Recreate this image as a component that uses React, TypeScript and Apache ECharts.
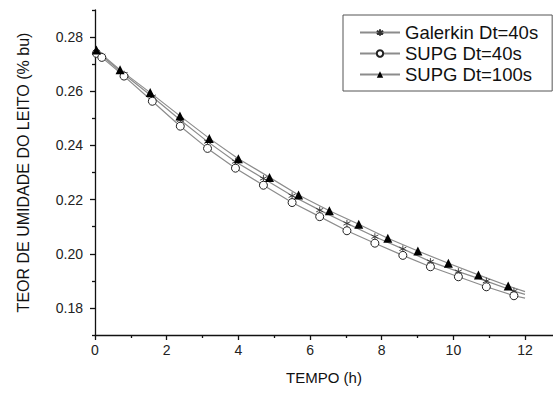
import React, { useEffect, useRef } from 'react';
import * as echarts from 'echarts';

const seriesNames = ['Galerkin Dt=40s', 'SUPG Dt=40s', 'SUPG Dt=100s'];

// time (h) of the Dt=40s samples (markers), last point = end of line
const timeDt40 = [0.04, 0.19, 0.81, 1.6, 2.38, 3.14, 3.92, 4.7, 5.5, 6.27, 7.03, 7.81, 8.59, 9.36, 10.14, 10.92, 11.69, 12.0];
const galerkin40 = [0.2745, 0.2731, 0.2663, 0.258, 0.2494, 0.2414, 0.234, 0.2278, 0.2214, 0.2161, 0.2112, 0.2063, 0.2018, 0.1971, 0.1934, 0.1899, 0.1862, 0.185];
const supg40 = [0.274, 0.2725, 0.2656, 0.2563, 0.2471, 0.2389, 0.2316, 0.2253, 0.2189, 0.2137, 0.2085, 0.2039, 0.1994, 0.1952, 0.1915, 0.1878, 0.1845, 0.1836];

// time (h) of the Dt=100s samples
const timeDt100 = [0.04, 0.7, 1.54, 2.37, 3.19, 4.0, 4.87, 5.68, 6.54, 7.36, 8.17, 9.01, 9.86, 10.7, 11.53, 12.0];
const supg100 = [0.2752, 0.2679, 0.2595, 0.2509, 0.2426, 0.2351, 0.2282, 0.2217, 0.2159, 0.2109, 0.2057, 0.201, 0.1965, 0.1922, 0.1881, 0.186];

const yMajorTicks = [0.18, 0.2, 0.22, 0.24, 0.26, 0.28];
const yMinorTicks = [0.17, 0.19, 0.21, 0.23, 0.25, 0.27, 0.29];
const xMajorTicks = [0, 2, 4, 6, 8, 10, 12];
const xMinorTicks = [1, 3, 5, 7, 9, 11];

const ASTERISK = 'path://M5 0L5 10M0.67 2.5L9.33 7.5M0.67 7.5L9.33 2.5';
const FONT = '"Liberation Sans", Arial, Helvetica, sans-serif';

function toData(xs: number[], ys: number[]) {
  return xs.map((x, i) =>
    i === xs.length - 1 ? { value: [x, ys[i]], symbol: 'none' } : [x, ys[i]]
  );
}

export default function App() {
  const ref = useRef<HTMLDivElement>(null);
  useEffect(() => {
    if (!ref.current) return;
    const chart = echarts.init(ref.current, null, { renderer: 'svg' });
    const lineStyle = { color: '#8c8c8c', width: 1.2 };
    const axisColor = '#111';
    chart.setOption({
      animation: false,
      backgroundColor: '#fff',
      textStyle: { fontFamily: FONT },
      grid: { left: 95, right: 0, top: 10, bottom: 59 },
      legend: {
        orient: 'vertical',
        left: 343,
        top: 15,
        padding: [8, 14, 7, 16],
        itemWidth: 40,
        itemHeight: 8,
        itemGap: 2,
        borderColor: '#555',
        borderWidth: 1,
        textStyle: { fontSize: 18.5, color: '#111', fontFamily: FONT },
        data: seriesNames,
      },
      xAxis: [
        {
          type: 'value',
          min: 0,
          max: 12.78,
          position: 'bottom',
          name: 'TEMPO (h)',
          nameLocation: 'middle',
          nameGap: 35,
          nameTextStyle: { fontSize: 15, color: '#111', fontFamily: FONT },
          axisLine: { lineStyle: { color: axisColor, width: 1.3 } },
          axisTick: { customValues: xMajorTicks, length: 5, lineStyle: { color: axisColor, width: 1.3 } },
          axisLabel: { customValues: xMajorTicks, margin: 8, fontSize: 14, color: '#222', fontFamily: FONT },
          splitLine: { show: false },
        },
        {
          type: 'value',
          min: 0,
          max: 12.78,
          position: 'bottom',
          axisLine: { show: false },
          axisTick: { customValues: xMinorTicks, length: 3, lineStyle: { color: axisColor, width: 1.3 } },
          axisLabel: { show: false },
          splitLine: { show: false },
        },
      ],
      yAxis: [
        {
          type: 'value',
          min: 0.17,
          max: 0.29,
          position: 'left',
          name: 'TEOR DE UMIDADE DO LEITO (% bu)',
          nameLocation: 'middle',
          nameGap: 64,
          nameTextStyle: { fontSize: 16, color: '#111', fontFamily: FONT },
          axisLine: { lineStyle: { color: axisColor, width: 1.3 } },
          axisTick: { customValues: yMajorTicks, length: 5, lineStyle: { color: axisColor, width: 1.3 } },
          axisLabel: {
            customValues: yMajorTicks,
            margin: 12,
            fontSize: 14,
            color: '#222',
            fontFamily: FONT,
            formatter: (v: number) => v.toFixed(2),
          },
          splitLine: { show: false },
        },
        {
          type: 'value',
          min: 0.17,
          max: 0.29,
          position: 'left',
          axisLine: { show: false },
          axisTick: { customValues: yMinorTicks, length: 3, lineStyle: { color: axisColor, width: 1.3 } },
          axisLabel: { show: false },
          splitLine: { show: false },
        },
      ],
      series: [
        {
          name: seriesNames[0],
          type: 'line',
          data: toData(timeDt40, galerkin40),
          symbol: ASTERISK,
          symbolSize: 7,
          lineStyle,
          itemStyle: { color: '#333', borderColor: '#333', borderWidth: 0.9 },
          z: 3,
        },
        {
          name: seriesNames[1],
          type: 'line',
          data: toData(timeDt40, supg40),
          symbol: 'circle',
          symbolSize: 8,
          lineStyle,
          itemStyle: { color: '#fff', borderColor: '#222', borderWidth: 1 },
          z: 3,
        },
        {
          name: seriesNames[2],
          type: 'line',
          data: toData(timeDt100, supg100),
          symbol: 'triangle',
          symbolSize: 9,
          lineStyle,
          itemStyle: { color: '#000' },
          z: 3,
        },
      ],
    });
    return () => chart.dispose();
  }, []);
  return (
    <div
      ref={ref}
      style={{ position: 'fixed', left: 0, top: 0, width: 553, height: 394, background: '#fff' }}
    />
  );
}
